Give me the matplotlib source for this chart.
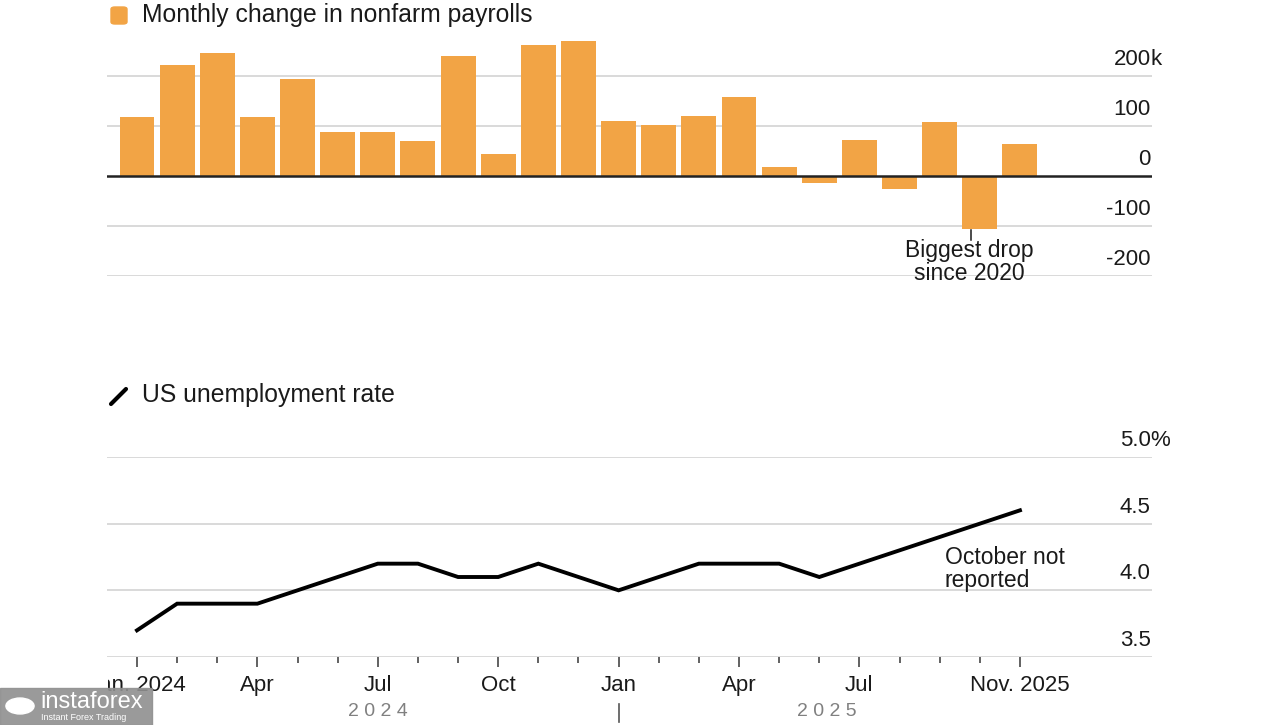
import numpy as np
import matplotlib.pyplot as plt
from matplotlib.patches import FancyBboxPatch, Rectangle
from matplotlib.transforms import Bbox, TransformedBbox, blended_transform_factory

plt.rcParams['font.family'] = ['Liberation Sans', 'DejaVu Sans']

# Jan 2024 .. Nov 2025, monthly
months = ['Jan 2024', 'Feb', 'Mar', 'Apr', 'May', 'Jun', 'Jul', 'Aug', 'Sep', 'Oct', 'Nov', 'Dec',
          'Jan 2025', 'Feb', 'Mar', 'Apr', 'May', 'Jun', 'Jul', 'Aug', 'Sep', 'Oct', 'Nov']
payrolls = [118, 222, 246, 118, 194, 88, 88, 70, 240, 44, 262, 270,
            110, 102, 120, 158, 18, -14, 72, -26, 108, -105, 64]
# October 2025 unemployment was not reported
unemp_idx = [0, 1, 2, 3, 4, 5, 6, 7, 8, 9, 10, 11, 12, 13, 14, 15, 16, 17, 18, 19, 20, 22]
unemp = [3.7, 3.9, 3.9, 3.9, 4.0, 4.1, 4.2, 4.2, 4.1, 4.1, 4.2, 4.1,
         4.0, 4.1, 4.2, 4.2, 4.2, 4.1, 4.2, 4.3, 4.4, 4.6]

pay_ticks = [200, 100, 0, -100, -200]
pay_labels = ['200', '100', '0', '-100', '-200']
rate_ticks = [5.0, 4.5, 4.0, 3.5]
rate_labels = ['5.0', '4.5', '4.0', '3.5']
major_idx = [0, 3, 6, 9, 12, 15, 18, 22]
major_lbl = ['Jan. 2024', 'Apr', 'Jul', 'Oct', 'Jan', 'Apr', 'Jul', 'Nov. 2025']

W, H = 1280, 725
ORANGE = '#F2A445'
GRID = '#d9d9d9'
INK = '#1a1a1a'
TITLE_FS = 17.8
TICK_FS = 16
NOTE_FS = 16.5
LBL_OFF = 8

fig = plt.figure(figsize=(W / 100, H / 100), dpi=100)


def fx(px):
    return px / W


def fy(py):
    return 1 - py / H


x = np.arange(len(months))
xlim = (-0.747, 25.29)

# ---- top: payrolls bars
ax1 = fig.add_axes([fx(107), fy(276), fx(1152) - fx(107), fy(36) - fy(276)])
ax1.set_xlim(*xlim)
ax1.set_ylim(-200, 280)
for v in pay_ticks:
    if v == 0:
        ax1.axhline(v, color='#222222', lw=1.8, zorder=3)
    else:
        ax1.axhline(v, color=GRID, lw=1.4, zorder=0)
ax1.bar(x, payrolls, width=0.87, color=ORANGE, zorder=2)
for v, lab in zip(pay_ticks, pay_labels):
    ax1.annotate(lab, xy=(1, v), xycoords=('axes fraction', 'data'), xytext=(-1, LBL_OFF),
                 textcoords='offset points', ha='right', va='baseline', fontsize=TICK_FS, color=INK)
ax1.annotate('k', xy=(1, 200), xycoords=('axes fraction', 'data'), xytext=(-1, LBL_OFF),
             textcoords='offset points', ha='left', va='baseline', fontsize=TICK_FS, color=INK)
ax1.axis('off')

# annotation for the October drop
ax1.plot([20.78, 20.78], [-107, -128], color=INK, lw=1.1, zorder=4)
ax1.text(20.75, -172, 'Biggest drop\nsince 2020', ha='center', va='center',
         fontsize=NOTE_FS, color=INK, linespacing=0.97, zorder=4)

# legend swatch + title
fig.patches.append(FancyBboxPatch((fx(111), fy(24)), fx(127) - fx(111), fy(7) - fy(24),
                                  boxstyle='round,pad=0.0,rounding_size=0.003',
                                  transform=fig.transFigure, color=ORANGE))
fig.text(fx(142), fy(15), 'Monthly change in nonfarm payrolls', fontsize=TITLE_FS,
         color=INK, ha='left', va='center')

# ---- bottom: unemployment line
ax2 = fig.add_axes([fx(107), fy(657), fx(1152) - fx(107), fy(457) - fy(657)])
ax2.set_xlim(*xlim)
ax2.set_ylim(3.5, 5.0)
for v in rate_ticks:
    ax2.axhline(v, color=GRID, lw=1.4, zorder=0)
ax2.plot(unemp_idx, unemp, color='black', lw=2.8, solid_joinstyle='miter', zorder=3)
for v, lab in zip(rate_ticks, rate_labels):
    ax2.annotate(lab, xy=(1, v), xycoords=('axes fraction', 'data'), xytext=(-1, LBL_OFF),
                 textcoords='offset points', ha='right', va='baseline', fontsize=TICK_FS, color=INK)
ax2.annotate('%', xy=(1, 5.0), xycoords=('axes fraction', 'data'), xytext=(-1, LBL_OFF),
             textcoords='offset points', ha='left', va='baseline', fontsize=TICK_FS, color=INK)

ax2.text(20.13, 4.16, 'October not\nreported', ha='left', va='center', fontsize=NOTE_FS,
         color=INK, linespacing=0.97)

for s in ax2.spines.values():
    s.set_visible(False)
ax2.set_yticks([])
ax2.set_xticks(major_idx)
ax2.set_xticks([i for i in x if i not in major_idx], minor=True)
ax2.set_xticklabels(major_lbl, fontsize=TICK_FS, color=INK)
ax2.tick_params(axis='x', which='major', length=7, width=1.3, color='#555555', pad=6)
ax2.tick_params(axis='x', which='minor', length=4, width=1.3, color='#555555')

# first label is cut at the plot's left edge in the original
clipbox = TransformedBbox(Bbox([[fx(108), 0], [1, 1]]), fig.transFigure)
first = ax2.get_xticklabels()[0]
first.set_clip_box(clipbox)
first.set_clip_on(True)

# year labels and separator
tb = blended_transform_factory(ax2.transData, fig.transFigure)
ax2.text(6, fy(711), '2 0 2 4', transform=tb, ha='center', va='center', fontsize=14, color='#808080')
ax2.text(17.2, fy(711), '2 0 2 5', transform=tb, ha='center', va='center', fontsize=14, color='#808080')
ax2.plot([12, 12], [fy(704), fy(722)], transform=tb, color='#555555', lw=1.2, clip_on=False)

# legend line + title
fig.add_artist(plt.Line2D([fx(111), fx(126)], [fy(404), fy(389)], color='black', lw=3,
                          solid_capstyle='round', transform=fig.transFigure))
fig.text(fx(142), fy(395), 'US unemployment rate', fontsize=TITLE_FS, color=INK, ha='left', va='center')

# watermark box
fig.patches.append(Rectangle((0, 0), fx(152), fy(688), transform=fig.transFigure,
                             color='#8f8f8f', alpha=0.9, zorder=5))
fig.text(fx(40), fy(702), 'instaforex', fontsize=17, color='white', ha='left', va='center', zorder=6)
fig.text(fx(41), fy(718), 'Instant Forex Trading', fontsize=6.5, color='white', ha='left', va='center', zorder=6)
fig.patches.append(plt.Circle((fx(20), fy(706)), 0.011, transform=fig.transFigure,
                              color='white', zorder=6))

fig.savefig('out.png', dpi=100)
